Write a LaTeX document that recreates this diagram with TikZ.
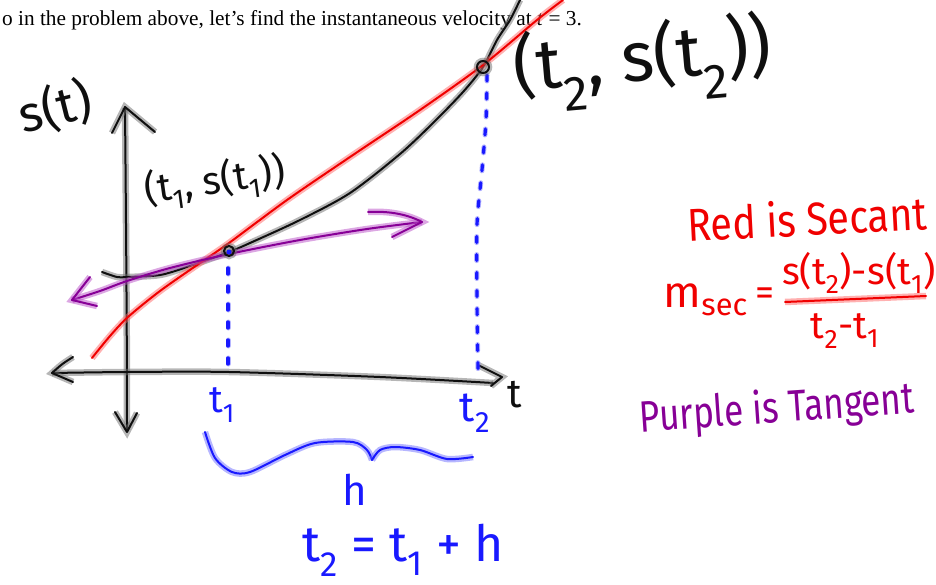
\documentclass[tikz,border=0pt]{standalone}
\usepackage{fontspec}
\usepackage{graphicx}
\setmainfont{Liberation Serif}
\newfontfamily\hand{Fira Sans}
\definecolor{inkblack}{RGB}{15,15,15}
\definecolor{haloblack}{RGB}{110,110,110}
\definecolor{inkred}{RGB}{240,0,0}
\definecolor{halored}{RGB}{255,100,100}
\definecolor{inkblue}{RGB}{25,25,255}
\definecolor{haloblue}{RGB}{110,110,255}
\definecolor{inkpurple}{RGB}{135,0,150}
\definecolor{halopurple}{RGB}{185,80,200}
\tikzset{
  pen/.style n args={2}{draw=#1, line width=2pt, line cap=round, line join=round,
    preaction={draw=#2, line width=6.5pt, draw opacity=0.5}},
  blackpen/.style={pen={inkblack}{haloblack}},
  redpen/.style={pen={inkred}{halored}},
  bluepen/.style={pen={inkblue}{haloblue}},
  purplepen/.style={pen={inkpurple}{halopurple}},
  bluedash/.style={draw=inkblue, line width=3.2pt, line cap=round, dash pattern=on 6pt off 12pt,
    preaction={draw=haloblue, line width=5pt, draw opacity=0.5, line cap=round, dash pattern=on 6pt off 12pt}},
  handtxt/.style={inner sep=0pt, font=\hand\fontsize{#1}{#1}\selectfont},
  handtxt/.default=36
}
\begin{document}
\begin{tikzpicture}[x=1pt,y=-1pt]
\useasboundingbox (0,0) rectangle (936,585);
% printed line of text
\node[anchor=base west, inner sep=0pt, font=\fontsize{21.3}{24}\selectfont] (intro) at (2,26)
  {o in the problem above, let’s find the instantaneous velocity at \textit{t} = 3.};

% axes
\draw[blackpen] (125,108) .. controls (126,220) and (127,330) .. (127,430);
\draw[blackpen] (112,133) -- (125,107) -- (155,132);
\draw[blackpen] (115,412) -- (127,432) -- (137,413);
\draw[blackpen] plot[smooth] coordinates {(52,373) (127,372) (229,372) (380,377) (493,383)};
\draw[blackpen] (73,357) .. controls (62,364) .. (52,373) -- (73,382);
\draw[blackpen] (478,365) -- (502,377) -- (491,386);

% black curve s(t)
\draw[blackpen] plot[smooth] coordinates {(102,272) (117,277) (127,277) (160,275) (190,266) (229,252)
  (250,243) (300,220) (350,193) (400,154) (433,123) (463,92) (483,67) (497,40) (510,20) (520,0)};

% red secant
\draw[redpen] plot[smooth] coordinates {(92,358) (110,336) (128,317) (160,291) (200,263) (229,243)
  (287,200) (350,157) (420,110) (483,65) (537,20) (563,0)};

% purple tangent
\draw[purplepen] plot[smooth] coordinates {(72,300) (100,291) (127,281) (170,268) (229,254)
  (300,240) (367,229) (422,222)};
\draw[purplepen] (90,277) -- (72,300) -- (97,306);
\draw[purplepen] (368,212) .. controls (385,211) and (405,213) .. (422,222) -- (392,237);

% blue dashed verticals
\draw[bluedash] (228,268) -- (228,372);
\draw[bluedash] plot[smooth] coordinates {(487,75) (486,120) (482,170) (477,225) (477,300) (478,372)};

% points
\draw[blackpen] (229,251) circle[radius=5];
\fill[inkblue] (229,252) circle[radius=2.5];
\draw[blackpen] (483,67) circle[radius=6];

% brace
\draw[bluepen] plot[smooth] coordinates {(205,432) (215,458) (232,472) (250,472) (285,455) (315,443)
  (353,442) (367,450) (372,460)};
\draw[bluepen] plot[smooth] coordinates {(372,460) (380,450) (395,447) (420,450) (447,459) (473,457)};

% labels
\node[handtxt=50, rotate=14, text=inkblack] (st) at (55,108) {s(t)};
\node[handtxt=39, rotate=8, text=inkblack] (p1) at (215,182) {(t\textsubscript{1}, s(t\textsubscript{1}))};
\node[handtxt=70, rotate=5, text=inkblack] (p2) at (643,63) {(t\textsubscript{2}, s(t\textsubscript{2}))};
\node[handtxt=40, text=inkblack] (tax) at (515,395) {t};
\node[handtxt=38, text=inkblue] (t1) at (222,405) {t\textsubscript{1}};
\node[handtxt=42, text=inkblue] (t2) at (475,413) {t\textsubscript{2}};
\node[handtxt=42, text=inkblue] (h) at (355,490) {h};
\node[handtxt=50, text=inkblue] (rel) at (403,550) {t\textsubscript{2} = t\textsubscript{1} + h};
\node[handtxt=46, rotate=3, text=inkred] (red) at (807,218) {\scalebox{0.86}[1]{Red is Secant}};
\node[handtxt=44, text=inkred, anchor=east] (msec) at (748,300) {m\textsubscript{sec}};
\node[handtxt=38, text=inkred] (eq) at (765,297) {=};
\node[handtxt=38, text=inkred, anchor=west] (num) at (782,273) {s(t\textsubscript{2})-s(t\textsubscript{1})};
\node[handtxt=38, text=inkred] (den) at (845,331) {t\textsubscript{2}-t\textsubscript{1}};
\draw[redpen] (785,302) -- (926,296);
\node[handtxt=44, rotate=4, text=inkpurple] (pur) at (777,410) {\scalebox{0.8}[1]{Purple is Tangent}};
\end{tikzpicture}
\end{document}
